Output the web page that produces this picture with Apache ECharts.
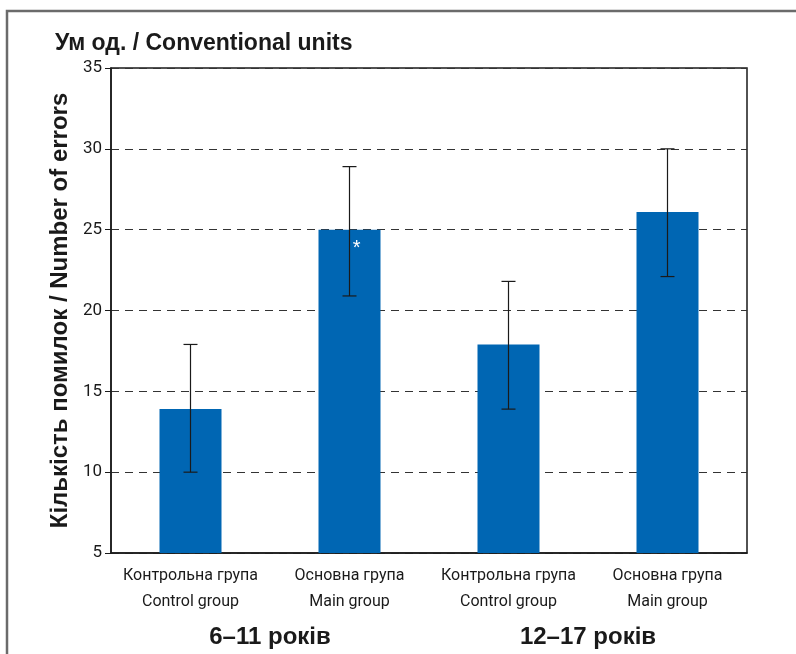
<!DOCTYPE html>
<html>
<head>
<meta charset="utf-8">
<script src="https://cdn.jsdelivr.net/npm/echarts@6/dist/echarts.min.js"></script>
<style>
  html, body { margin: 0; padding: 0; background: #fff; }
  #chart { width: 796px; height: 654px; }
</style>
</head>
<body>
<div id="chart"></div>
<script>
const categories = [
  "Контрольна група\nControl group",
  "Основна група\nMain group",
  "Контрольна група\nControl group",
  "Основна група\nMain group"
];
const ageGroups = ["6–11 років", "12–17 років"];
const means = [13.9, 25.0, 17.9, 26.1];
const errLow = [10.0, 20.9, 13.9, 22.1];
const errHigh = [17.9, 28.9, 21.8, 30.0];
const yTicks = { min: 5, max: 35, interval: 5 };

const narrow = "'Roboto', sans-serif";
const bold = "'Liberation Sans', 'Arial', sans-serif";

const myChart = echarts.init(document.getElementById("chart"));

const option = {
  animation: false,
  backgroundColor: "#fff",
  graphic: [
    {
      type: "rect",
      shape: { x: 7, y: 11, width: 820, height: 700 },
      style: { fill: "none", stroke: "#6b6b6b", lineWidth: 2.5 },
      silent: true
    },
    {
      type: "text",
      left: 55,
      top: 32,
      style: {
        text: "Ум од. / Conventional units",
        font: "bold 23px " + bold,
        fill: "#1a1a1a"
      }
    }
  ],
  grid: {
    left: 111,
    right: 49,
    top: 68,
    bottom: 101,
    show: true,
    borderColor: "#1a1a1a",
    borderWidth: 1.5
  },
  xAxis: [
    {
      type: "category",
      data: categories,
      axisLine: { lineStyle: { color: "#1a1a1a", width: 1.5 } },
      axisTick: { show: false },
      axisLabel: {
        interval: 0,
        color: "#1a1a1a",
        fontFamily: narrow,
        fontSize: 16,
        lineHeight: 26,
        margin: 10
      }
    },
    {
      type: "category",
      data: ageGroups,
      position: "bottom",
      offset: 64,
      axisLine: { show: false },
      axisTick: { show: false },
      axisLabel: {
        interval: 0,
        color: "#1a1a1a",
        fontFamily: bold,
        fontWeight: "bold",
        fontSize: 24
      }
    }
  ],
  yAxis: {
    type: "value",
    min: yTicks.min,
    max: yTicks.max,
    interval: yTicks.interval,
    name: "Кількість помилок / Number of errors",
    nameLocation: "middle",
    nameGap: 34,
    nameTextStyle: {
      color: "#1a1a1a",
      fontFamily: bold,
      fontWeight: "bold",
      fontSize: 24
    },
    axisLine: { show: true, lineStyle: { color: "#1a1a1a", width: 1.5 } },
    axisTick: { show: true, length: 6, lineStyle: { color: "#1a1a1a" } },
    axisLabel: {
      color: "#1a1a1a",
      fontFamily: narrow,
      fontSize: 17,
      margin: 9
    },
    splitLine: {
      show: true,
      lineStyle: { color: "#333", type: [8, 6], width: 1 }
    }
  },
  series: [
    {
      type: "bar",
      data: means.map(function (v, i) {
        if (i === 1) {
          return {
            value: v,
            label: {
              show: true,
              position: "insideTopRight",
              formatter: "*",
              color: "#fff",
              fontSize: 20,
              fontFamily: bold,
              offset: [-15, 4]
            }
          };
        }
        return v;
      }),
      barWidth: 62,
      itemStyle: { color: "#0066b3" },
      z: 2
    },
    {
      type: "custom",
      z: 3,
      data: errLow.map(function (lo, i) { return [i, lo, errHigh[i]]; }),
      renderItem: function (params, api) {
        const i = api.value(0);
        const lo = api.coord([i, api.value(1)]);
        const hi = api.coord([i, api.value(2)]);
        const hw = 7;
        const st = { stroke: "#1a1a1a", lineWidth: 1.2 };
        return {
          type: "group",
          children: [
            { type: "line", shape: { x1: hi[0], y1: hi[1], x2: lo[0], y2: lo[1] }, style: st },
            { type: "line", shape: { x1: hi[0] - hw, y1: hi[1], x2: hi[0] + hw, y2: hi[1] }, style: st },
            { type: "line", shape: { x1: lo[0] - hw, y1: lo[1], x2: lo[0] + hw, y2: lo[1] }, style: st }
          ]
        };
      }
    }
  ]
};

myChart.setOption(option);
</script>
</body>
</html>
